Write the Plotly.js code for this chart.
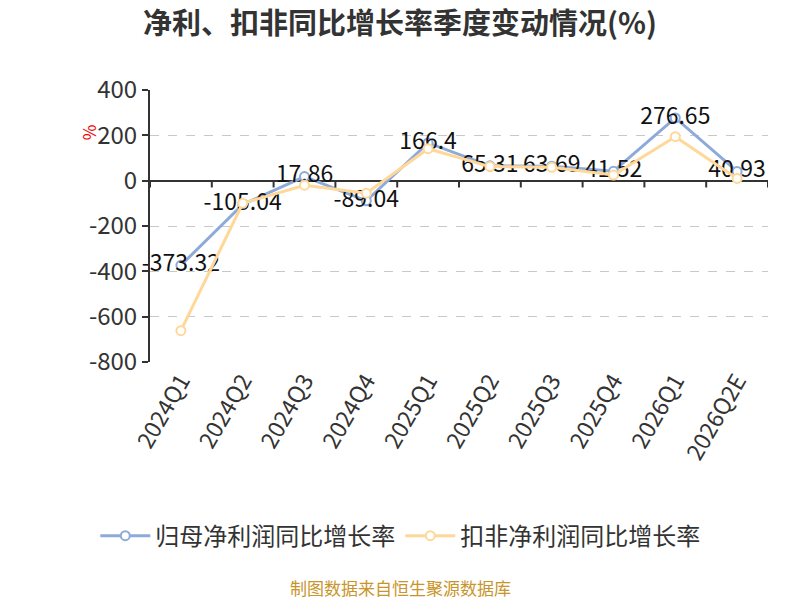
<!DOCTYPE html>
<html>
<head>
<meta charset="utf-8">
<script src="https://cdn.plot.ly/plotly-3.0.1.min.js"></script>
<style>
  html, body { margin: 0; padding: 0; background: #fff; }
  #chart { width: 800px; height: 600px; }
</style>
</head>
<body>
<div id="chart"></div>
<script>
var quarters = ['2024Q1', '2024Q2', '2024Q3', '2024Q4', '2025Q1', '2025Q2', '2025Q3', '2025Q4', '2026Q1', '2026Q2E'];
var netGrowth = [-373.32, -105.04, 17.86, -89.04, 166.4, 65.31, 63.69, 41.52, 276.65, 40.93];
var deductGrowth = [-662, -100, -20, -55, 141, 62, 59, 25, 194, 10];
var yTicks = [-800, -600, -400, -200, 0, 200, 400];
var yTickText = ['-800', '-600', '-400', '-200', '0', '200', '400'];

var FONT = '"Noto Sans CJK SC", "Noto Sans", sans-serif';
var BLUE = '#8eaadb';
var GOLD = '#ffd899';

var net = {
  x: quarters, y: netGrowth,
  name: '归母净利润同比增长率',
  type: 'scatter', mode: 'lines+markers+text',
  line: {color: BLUE, width: 3},
  marker: {size: 9, color: '#fff', line: {color: BLUE, width: 2}},
  text: netGrowth.map(String),
  textposition: 'middle center',
  textfont: {family: FONT, size: 23, color: '#111'},
  cliponaxis: false
};

var deduct = {
  x: quarters, y: deductGrowth,
  name: '扣非净利润同比增长率',
  type: 'scatter', mode: 'lines+markers',
  line: {color: GOLD, width: 3},
  marker: {size: 9, color: '#fff', line: {color: GOLD, width: 2}},
  cliponaxis: false
};

var layout = {
  width: 800, height: 600,
  margin: {l: 150, r: 32, t: 90, b: 238},
  paper_bgcolor: '#fff', plot_bgcolor: '#fff',
  font: {family: FONT, color: '#333'},
  title: {
    text: '<b>净利、扣非同比增长率季度变动情况(%)</b>',
    font: {family: FONT, size: 29, color: '#333'},
    x: 0.5, xanchor: 'center', y: 0.96, yanchor: 'middle'
  },
  xaxis: {
    type: 'category',
    tickangle: -60,
    tickfont: {size: 23, color: '#333'},
    showgrid: false,
    showline: false,
    zeroline: false,
    ticks: '',
    range: [-0.5, quarters.length - 0.5],
    fixedrange: true
  },
  yaxis: {
    range: [-800, 400],
    tickvals: yTicks,
    ticktext: yTickText,
    tickfont: {size: 24, color: '#333'},
    showline: true, linecolor: '#333', linewidth: 2,
    ticks: 'outside', ticklen: 6, tickcolor: '#333', tickwidth: 2,
    showgrid: true, gridcolor: '#c8c8c8', griddash: 'dash', gridwidth: 1,
    zeroline: true, zerolinecolor: '#333', zerolinewidth: 2
  },
  showlegend: true,
  legend: {
    orientation: 'h', x: 0.405, xanchor: 'center', y: -0.64, yanchor: 'middle',
    font: {family: FONT, size: 24, color: '#333'},
    itemwidth: 50
  },
  annotations: [{
    text: '制图数据来自恒生聚源数据库',
    xref: 'paper', yref: 'paper', x: 0.405, y: -0.83,
    xanchor: 'center', yanchor: 'middle', showarrow: false,
    font: {family: FONT, size: 17, color: '#c8952a'}
  }, {
    text: '%',
    xref: 'paper', yref: 'paper', x: -0.1, y: 0.845,
    xanchor: 'center', yanchor: 'middle', showarrow: false, textangle: -90,
    font: {family: FONT, size: 17, color: '#e00'}
  }],
  shapes: []
};

// x-axis ticks between categories along the zero line
for (var i = 0; i <= quarters.length; i++) {
  layout.shapes.push({
    type: 'line', xref: 'x', yref: 'y',
    x0: i - 0.5, x1: i - 0.5, y0: 0, y1: -30,
    line: {color: '#333', width: 2}
  });
}

Plotly.newPlot('chart', [net, deduct], layout, {displayModeBar: false, staticPlot: true});
</script>
</body>
</html>
